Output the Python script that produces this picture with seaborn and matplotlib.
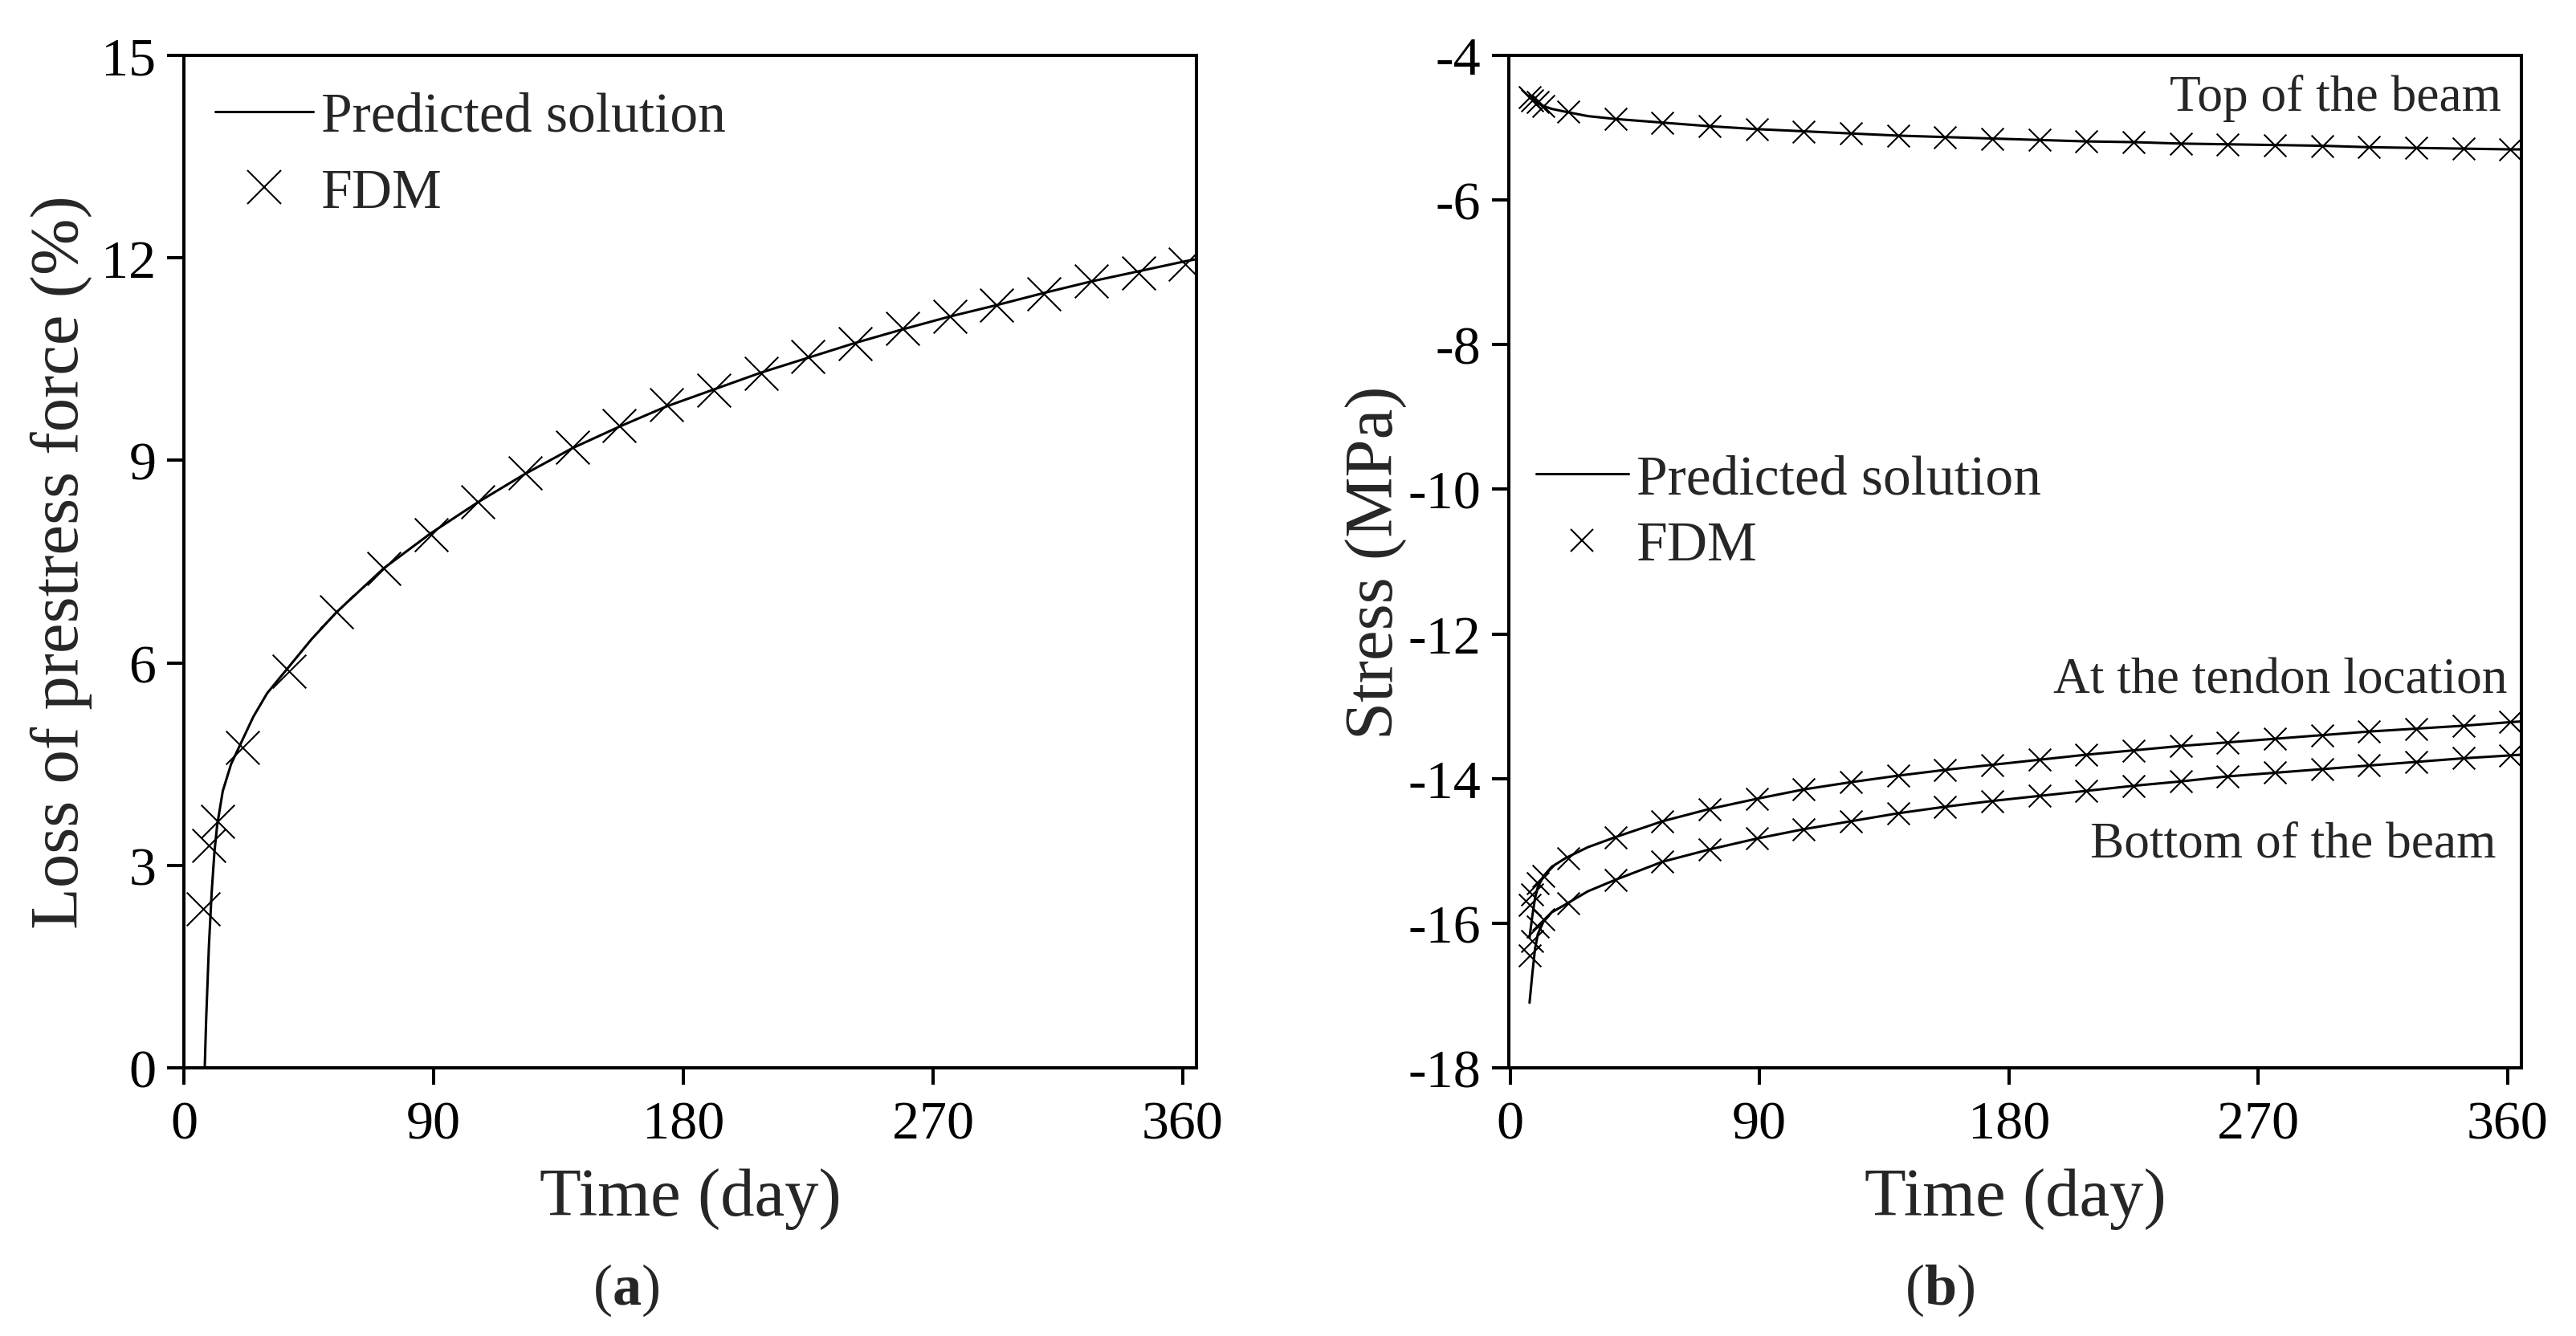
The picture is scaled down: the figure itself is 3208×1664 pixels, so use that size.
import matplotlib
matplotlib.use("Agg")
import matplotlib.pyplot as plt
from matplotlib.lines import Line2D
import seaborn as sns

# ---- panel (a): loss of prestress force ----
a_line_t = [7.5, 8, 9, 10, 11, 12, 14, 17, 21, 25, 30, 38, 46, 55, 72, 89, 106, 123,
            140, 157, 174, 191, 208, 225, 242, 259, 276, 293, 310, 327, 344, 361, 365]
a_line_y = [0, 0.7, 1.8, 2.6, 3.2, 3.6, 4.1, 4.5, 4.85, 5.2, 5.55, 5.95, 6.35, 6.75,
            7.4, 7.92, 8.38, 8.8, 9.18, 9.5, 9.8, 10.05, 10.3, 10.52, 10.74, 10.94,
            11.13, 11.3, 11.48, 11.65, 11.8, 11.95, 11.98]
a_fdm_t = [7, 9, 12, 21, 38, 55, 72, 89, 106, 123, 140, 157, 174, 191, 208, 225,
           242, 259, 276, 293, 310, 327, 344, 361]
a_fdm_y = [2.35, 3.3, 3.65, 4.75, 5.88, 6.76, 7.4, 7.9, 8.38, 8.81, 9.19, 9.51, 9.82,
           10.04, 10.29, 10.54, 10.73, 10.95, 11.13, 11.3, 11.47, 11.66, 11.78, 11.91]

# ---- panel (b): stresses ----
b_fdm_t = [7, 8, 10, 12, 21, 38, 55, 72, 89, 106, 123, 140, 157, 174, 191, 208, 225,
           242, 259, 276, 293, 310, 327, 344, 361]
top_fdm = [-4.58, -4.62, -4.64, -4.7, -4.78, -4.88, -4.93, -4.98, -5.02, -5.05, -5.08,
           -5.11, -5.13, -5.15, -5.17, -5.19, -5.2, -5.22, -5.23, -5.24, -5.25, -5.27,
           -5.28, -5.29, -5.3]
tendon_fdm = [-15.75, -15.6, -15.45, -15.35, -15.1, -14.81, -14.59, -14.42, -14.28,
              -14.15, -14.05, -13.96, -13.88, -13.81, -13.74, -13.67, -13.61, -13.55,
              -13.5, -13.45, -13.4, -13.35, -13.31, -13.27, -13.22]
bottom_fdm = [-16.45, -16.25, -16.05, -15.95, -15.72, -15.4, -15.15, -14.98, -14.83,
              -14.7, -14.59, -14.48, -14.39, -14.31, -14.24, -14.17, -14.1, -14.04,
              -13.97, -13.92, -13.87, -13.82, -13.77, -13.72, -13.68]

b_line_t = [7, 8, 9, 10, 12, 15, 20, 28, 38, 55, 72, 89, 106, 123, 140, 157, 174, 191,
            208, 225, 242, 259, 276, 293, 310, 327, 344, 361, 365]
top_line = [-4.55, -4.6, -4.63, -4.66, -4.7, -4.74, -4.78, -4.84, -4.88, -4.93, -4.98,
            -5.02, -5.05, -5.08, -5.11, -5.13, -5.15, -5.17, -5.19, -5.2, -5.22, -5.23,
            -5.24, -5.25, -5.27, -5.28, -5.29, -5.3, -5.3]
tendon_line = [-16.2, -15.9, -15.65, -15.5, -15.35, -15.22, -15.1, -14.95, -14.81,
               -14.59, -14.42, -14.28, -14.15, -14.05, -13.96, -13.88, -13.81, -13.74,
               -13.67, -13.61, -13.55, -13.5, -13.45, -13.4, -13.35, -13.31, -13.27,
               -13.22, -13.21]
bottom_line = [-17.1, -16.7, -16.35, -16.15, -15.98, -15.85, -15.74, -15.56, -15.4,
               -15.15, -14.98, -14.83, -14.7, -14.59, -14.48, -14.39, -14.31, -14.24,
               -14.17, -14.1, -14.04, -13.97, -13.92, -13.87, -13.82, -13.77, -13.72,
               -13.68, -13.67]

x_ticks = [0, 90, 180, 270, 360]
a_yticks = [0, 3, 6, 9, 12, 15]
b_yticks = [-18, -16, -14, -12, -10, -8, -6, -4]

sns.set_theme(style="ticks")
plt.rcParams['font.family'] = ['Liberation Serif', 'DejaVu Serif']
plt.rcParams['mathtext.fontset'] = 'custom'
plt.rcParams['mathtext.rm'] = 'Liberation Serif'
plt.rcParams['mathtext.bf'] = 'Liberation Serif:bold'
plt.rcParams['axes.unicode_minus'] = False
plt.rcParams['axes.edgecolor'] = 'black'
plt.rcParams['axes.linewidth'] = 1.45
plt.rcParams['xtick.color'] = 'black'
plt.rcParams['ytick.color'] = 'black'

tick_size = 24.5
label_size = 30.5
legend_size = 25
note_size = 22.8
lw = 1.1

fig = plt.figure(figsize=(16.04, 8.325), dpi=200)
ax_a = fig.add_axes([0.0714, 0.2006, 0.3931, 0.7574])
ax_b = fig.add_axes([0.5857, 0.2006, 0.3931, 0.7574])

# panel (a)
sns.lineplot(x=a_line_t, y=a_line_y, ax=ax_a, sort=False, estimator=None,
             color='black', linewidth=lw)
sns.scatterplot(x=a_fdm_t, y=a_fdm_y, ax=ax_a, marker='x', s=225, color='black',
                linewidth=0.75)
ax_a.set_xlim(0, 365)
ax_a.set_ylim(0, 15)
ax_a.set_yticks(a_yticks)
ax_a.set_ylabel('Loss of prestress force (%)', fontsize=label_size, labelpad=4)

handles_a = [Line2D([], [], color='black', linewidth=lw),
             Line2D([], [], color='black', linestyle='none', marker='x',
                    markersize=15, markeredgewidth=0.75)]
ax_a.legend(handles_a, ['Predicted solution', 'FDM'], loc='upper left',
            bbox_to_anchor=(0.031, 0.964), frameon=False, fontsize=legend_size,
            handlelength=1.75, handletextpad=0.15, labelspacing=0.45,
            borderpad=0, borderaxespad=0)

# panel (b)
for yl in [top_line, tendon_line, bottom_line]:
    sns.lineplot(x=b_line_t, y=yl, ax=ax_b, sort=False, estimator=None,
                 color='black', linewidth=lw)
for yf in [top_fdm, tendon_fdm, bottom_fdm]:
    sns.scatterplot(x=b_fdm_t, y=yf, ax=ax_b, marker='x', s=100, color='black',
                    linewidth=0.75)
ax_b.set_xlim(-0.5, 365)
ax_b.set_ylim(-18, -4)
ax_b.set_yticks(b_yticks)
ax_b.set_ylabel('Stress (MPa)', fontsize=label_size, labelpad=0.5)

handles_b = [Line2D([], [], color='black', linewidth=lw),
             Line2D([], [], color='black', linestyle='none', marker='x',
                    markersize=10, markeredgewidth=0.75)]
ax_b.legend(handles_b, ['Predicted solution', 'FDM'], loc='upper left',
            bbox_to_anchor=(0.027, 0.606), frameon=False, fontsize=legend_size,
            handlelength=1.65, handletextpad=0.15, labelspacing=0.28,
            borderpad=0, borderaxespad=0)

ax_b.text(0.980, 0.946, 'Top of the beam', transform=ax_b.transAxes,
          fontsize=note_size, ha='right', va='baseline')
ax_b.text(0.9865, 0.371, 'At the tendon location', transform=ax_b.transAxes,
          fontsize=note_size, ha='right', va='baseline')
ax_b.text(0.975, 0.209, 'Bottom of the beam', transform=ax_b.transAxes,
          fontsize=note_size, ha='right', va='baseline')

for ax in [ax_a, ax_b]:
    ax.set_xticks(x_ticks)
    ax.set_xlabel('Time (day)', fontsize=label_size, labelpad=8)
    ax.tick_params(axis='both', labelsize=tick_size, length=7.5, width=1.45,
                   direction='out')
    ax.tick_params(axis='x', pad=7)
    ax.tick_params(axis='y', pad=5)

fig.text(0.243, 0.035, r'($\mathbf{a}$)', fontsize=26, ha='center', va='center')
fig.text(0.753, 0.035, r'($\mathbf{b}$)', fontsize=26, ha='center', va='center')

fig.savefig('out.png', dpi=200)
